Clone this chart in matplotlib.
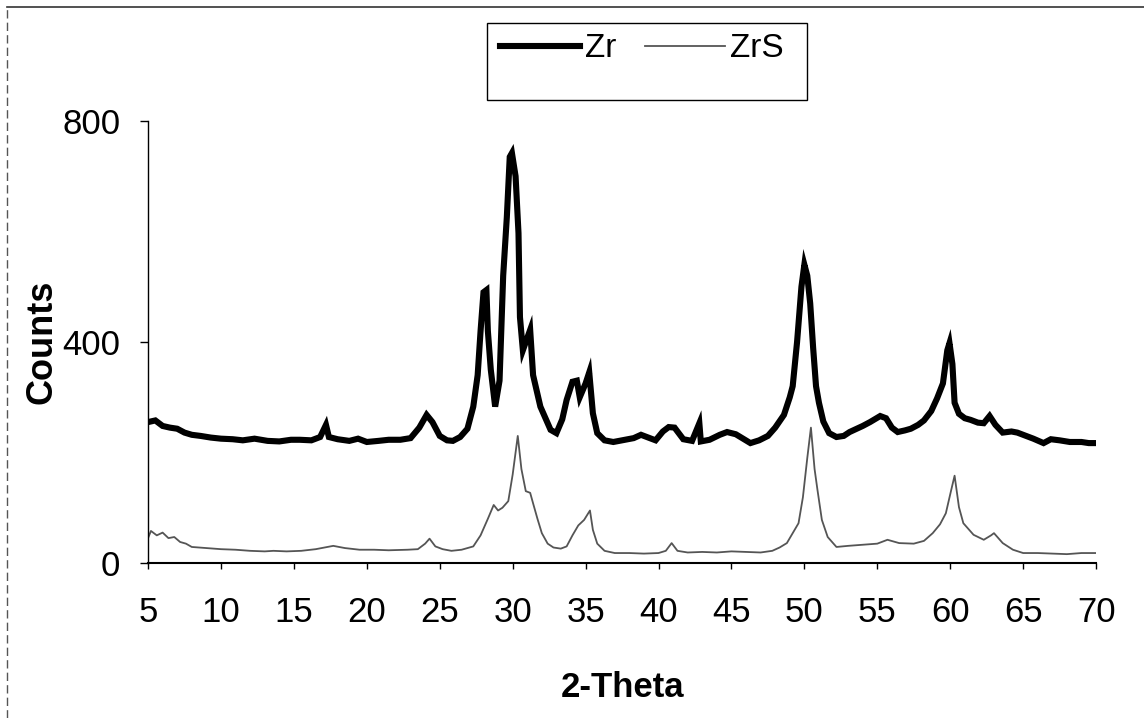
import matplotlib
matplotlib.use('Agg')
import matplotlib.pyplot as plt
from matplotlib import font_manager
from matplotlib.patches import Rectangle
from matplotlib.lines import Line2D

# Difractograma Zr (linea gruesa)
zr_x = [5.0, 5.5, 6.0, 6.5, 7.0, 7.5, 8.0, 8.6, 9.3, 10.0, 10.8, 11.5, 12.3, 13.2,
        14.0, 14.8, 15.4, 16.2, 16.8, 17.2, 17.4, 18.0, 18.8, 19.4, 20.0, 20.8,
        21.5, 22.3, 23.0, 23.6, 24.1, 24.5, 25.0, 25.5, 25.9, 26.4, 26.9, 27.3,
        27.6, 27.8, 28.0, 28.2, 28.3, 28.5, 28.8, 29.1, 29.35, 29.6, 29.8, 29.95,
        30.2, 30.4, 30.5, 30.7, 30.9, 31.2, 31.4, 31.9, 32.6, 33.0, 33.4, 33.7,
        34.1, 34.4, 34.6, 35.0, 35.25, 35.5, 35.8, 36.3, 36.9, 37.5, 38.3, 38.8,
        39.2, 39.8, 40.3, 40.7, 41.1, 41.7, 42.3, 42.8, 42.9, 43.5, 44.2, 44.7,
        45.3, 45.8, 46.3, 46.9, 47.5, 48.0, 48.6, 49.0, 49.2, 49.5, 49.8, 50.0,
        50.2, 50.4, 50.6, 50.8, 51.0, 51.3, 51.7, 52.2, 52.7, 53.1, 53.6, 54.0,
        54.5, 55.2, 55.6, 56.0, 56.4, 56.9, 57.3, 57.8, 58.2, 58.7, 59.1, 59.5,
        59.8, 59.95, 60.15, 60.3, 60.6, 61.0, 61.4, 61.9, 62.3, 62.7, 63.1, 63.6,
        64.2, 64.6, 65.0, 65.7, 66.4, 66.9, 67.5, 68.2, 69.0, 69.5, 70.0]
zr_y = [255, 258, 248, 245, 243, 236, 232, 230, 227, 225, 224, 222, 225, 221,
        220, 223, 223, 222, 228, 250, 228, 224, 221, 225, 219, 221,
        223, 223, 226, 245, 268, 255, 230, 222, 221, 228, 243, 283,
        340, 420, 490, 494, 420, 350, 283, 330, 520, 626, 735, 742,
        700, 597, 445, 385, 400, 422, 340, 283, 241, 235, 260, 295,
        328, 330, 300, 325, 345, 271, 235, 222, 219, 222, 226, 232,
        228, 222, 238, 246, 245, 224, 221, 253, 220, 223, 232, 237,
        233, 225, 217, 222, 230, 245, 268, 300, 320, 400, 500, 540,
        520, 470, 390, 320, 290, 256, 235, 228, 230, 237, 243, 248,
        255, 266, 262, 245, 237, 240, 243, 250, 258, 275, 298, 325,
        385, 398, 360, 290, 270, 262, 259, 254, 253, 266, 250, 236,
        238, 236, 232, 225, 217, 224, 222, 219, 219, 217, 217]

# Difractograma ZrS (linea fina)
zrs_x = [5.0, 5.2, 5.6, 6.0, 6.4, 6.8, 7.2, 7.6, 8.0, 9.0, 10.0, 11.0, 12.0, 13.0,
         13.6, 14.5, 15.5, 16.5, 17.7, 18.5, 19.5, 20.5, 21.5, 22.8, 23.5, 24.0,
         24.3, 24.7, 25.2, 25.8, 26.5, 27.3, 27.8, 28.3, 28.7, 29.0, 29.3, 29.7,
         30.0, 30.35, 30.6, 30.9, 31.2, 31.4, 31.7, 32.0, 32.4, 32.8, 33.3, 33.7,
         34.1, 34.5, 34.9, 35.3, 35.5, 35.8, 36.3, 37.0, 38.0, 39.0, 40.0, 40.5,
         40.9, 41.3, 42.0, 43.0, 44.0, 45.0, 46.0, 47.0, 47.8, 48.3, 48.8, 49.2,
         49.6, 49.9, 50.2, 50.45, 50.7, 50.9, 51.2, 51.6, 52.2, 53.0, 54.0, 55.0,
         55.7, 56.5, 57.5, 58.2, 58.8, 59.3, 59.7, 60.05, 60.3, 60.6, 60.9, 61.6,
         62.3, 62.8, 63.0, 63.3, 63.6, 64.3, 65.0, 66.0, 67.0, 68.0, 69.0, 70.0]
zrs_y = [45, 58, 50, 55, 45, 47, 38, 35, 29, 27, 25, 24, 22, 21,
         22, 21, 22, 25, 31, 27, 24, 24, 23, 24, 25, 35,
         44, 30, 25, 22, 24, 30, 50, 80, 105, 95, 100, 112,
         160, 230, 170, 130, 127, 108, 80, 54, 35, 28, 26, 30,
         50, 68, 78, 95, 60, 35, 22, 18, 18, 17, 18, 22,
         36, 22, 19, 20, 19, 21, 20, 19, 22, 28, 36, 54,
         72, 119, 190, 245, 170, 132, 78, 47, 29, 31, 33, 35,
         42, 36, 35, 40, 54, 70, 90, 130, 158, 101, 72, 51,
         42, 50, 54, 45, 36, 24, 18, 18, 17, 16, 18, 18]

x_ticks = [5, 10, 15, 20, 25, 30, 35, 40, 45, 50, 55, 60, 65, 70]
y_ticks = [0, 400, 800]

plt.rcParams['font.family'] = ['Liberation Sans', 'DejaVu Sans']

# Los numeros del original se ven estirados en vertical: usar la version Narrow si existe
nombres = {f.name for f in font_manager.fontManager.ttflist}
if 'Liberation Sans Narrow' in nombres:
    fuente_num, tam_num = 'Liberation Sans Narrow', 30
else:
    fuente_num, tam_num = 'Liberation Sans', 25

fig = plt.figure(figsize=(11.44, 7.18), dpi=100)
ax = fig.add_axes([0.1294, 0.2159, 0.8287, 0.6156])

ax.plot(zr_x, zr_y, color='black', lw=4.4, solid_joinstyle='miter', label='Zr')
ax.plot(zrs_x, zrs_y, color='#555555', lw=1.3, label='ZrS')

ax.set_xlim(5, 70)
ax.set_ylim(0, 800)
ax.set_xticks(x_ticks)
ax.set_yticks(y_ticks)
ax.spines['top'].set_visible(False)
ax.spines['right'].set_visible(False)
ax.spines['left'].set_linewidth(1.0)
ax.spines['bottom'].set_linewidth(1.5)
ax.tick_params(axis='x', direction='out', length=4.5, width=1, pad=19)
ax.tick_params(axis='y', direction='out', length=6, width=1, pad=14)
for lab in ax.get_xticklabels() + ax.get_yticklabels():
    lab.set_fontfamily(fuente_num)
    lab.set_fontsize(tam_num)

ax.set_xlabel('2-Theta', fontsize=tam_num, fontweight='bold', family=fuente_num)
ax.set_ylabel('Counts', fontsize=26, fontweight='bold')
ax.xaxis.set_label_coords(0.5, -0.245)
ax.yaxis.set_label_coords(-0.093, 0.5)

# Leyenda con recuadro propio (mas alto que el texto)
fig.legend(loc='center', bbox_to_anchor=(0.561, 0.932), ncol=2, frameon=False,
           fontsize=24, handlelength=2.4, handletextpad=0.15, columnspacing=0.85)
fig.add_artist(Rectangle((0.4257, 0.8607), 0.2797, 0.1072, transform=fig.transFigure,
                         fill=False, edgecolor='black', lw=1.0))

# Borde de la figura
fig.add_artist(Line2D([0.006, 0.006], [0.0, 0.99], transform=fig.transFigure,
                      color='#555555', lw=1.0, ls=(0, (6, 3))))
fig.add_artist(Line2D([0.006, 1.0], [0.99, 0.99], transform=fig.transFigure,
                      color='#333333', lw=1.2))

fig.savefig('out.png', dpi=100)
plt.close(fig)
